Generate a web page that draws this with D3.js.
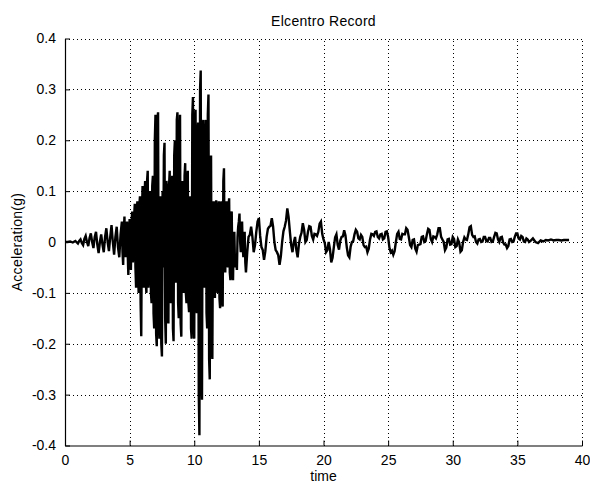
<!DOCTYPE html>
<html>
<head>
<meta charset="utf-8">
<script src="https://cdn.jsdelivr.net/npm/d3@7"></script>
<style>
  html, body { margin: 0; padding: 0; background: #fff; }
  svg { display: block; }
  text { font-family: "Liberation Sans", Arial, Helvetica, sans-serif; fill: #000; }
</style>
</head>
<body>
<svg id="chart" width="590" height="483"></svg>
<script>
// ---- data ----
const title = "Elcentro Record";
const xLabel = "time";
const yLabel = "Acceleration(g)";
const xTicks = [0, 5, 10, 15, 20, 25, 30, 35, 40];
const yTicks = [-0.4, -0.3, -0.2, -0.1, 0, 0.1, 0.2, 0.3, 0.4];

// [time (s), acceleration (g)] read from the record
const preEvent = [
  [0,0],[0.2,0],[0.4,0.001],[0.6,-0.001],[0.8,0.002],[1.0,-0.003],
  [1.1,0.002],[1.2,0.005],[1.3,-0.002],[1.4,-0.006],[1.5,0.006],[1.6,0.012],[1.7,0.0],[1.8,-0.008],
  [1.9,0.008],[2.0,0.017],[2.1,0.0],[2.2,-0.012],[2.3,0.01],[2.4,0.02],[2.5,-0.005],[2.6,-0.022],
  [2.7,0.0],[2.8,0.015],[2.9,-0.005],[3.0,-0.02],[3.1,0.01],[3.2,0.027],[3.3,0.0],[3.4,-0.018],
  [3.5,0.01],[3.6,0.033],[3.7,0.0],[3.8,-0.025],[3.9,0.01],[4.0,0.03],[4.1,-0.01],[4.2,-0.03],
  [4.3,0.015]
];
const strongMotion = [
  [4.4,0.04],[4.45,-0.02],[4.5,-0.045],[4.55,0.02],[4.6,0.05],[4.65,-0.01],[4.7,-0.03],[4.75,0.03],
  [4.8,0.04],[4.85,-0.02],[4.9,-0.065],[4.95,0.01],[5.0,0.045],[5.05,-0.03],[5.1,-0.055],[5.15,0.04],
  [5.2,0.06],[5.25,-0.04],[5.3,-0.02],[5.35,0.05],[5.4,0.075],[5.45,-0.05],[5.5,-0.09],[5.55,0.06],
  [5.6,0.08],[5.65,-0.06],[5.7,-0.1],[5.75,0.07],[5.8,0.09],[5.85,-0.12],[5.9,-0.185],[5.95,0.05],
  [6.0,0.11],[6.05,-0.05],[6.1,-0.09],[6.15,0.09],[6.2,0.12],[6.25,-0.08],[6.3,-0.1],[6.35,0.12],
  [6.4,0.14],[6.45,-0.09],[6.5,-0.06],[6.55,0.08],[6.6,0.1],[6.65,-0.1],[6.7,-0.12],[6.75,0.11],
  [6.8,0.13],[6.85,-0.14],[6.9,-0.17],[6.95,0.2],[7.0,0.25],[7.05,-0.18],[7.1,-0.205],[7.15,0.24],
  [7.2,0.255],[7.25,-0.15],[7.3,-0.19],[7.35,0.05],[7.4,0.09],[7.45,-0.2],[7.5,-0.225],[7.55,0.1],
  [7.6,-0.05],[7.65,0.17],[7.7,0.195],[7.75,-0.15],[7.8,-0.2],[7.85,0.12],[7.9,0.1],[7.95,-0.14],
  [8.0,-0.16],[8.05,0.11],[8.1,0.14],[8.15,-0.1],[8.2,-0.12],[8.25,0.12],[8.3,0.13],[8.35,-0.17],
  [8.4,-0.195],[8.45,0.17],[8.5,0.2],[8.55,-0.06],[8.6,-0.08],[8.65,0.24],[8.7,0.255],[8.75,-0.12],
  [8.8,-0.15],[8.85,0.2],[8.9,0.25],[8.95,-0.16],[9.0,-0.186],[9.05,0.1],[9.1,0.12],[9.15,-0.08],
  [9.2,-0.1],[9.25,0.13],[9.3,0.155],[9.35,-0.1],[9.4,-0.12],[9.45,0.12],[9.5,0.14],[9.55,-0.12],
  [9.6,-0.138],[9.65,0.07],[9.7,0.09],[9.75,-0.17],[9.8,-0.19],[9.85,0.25],[9.9,0.285],[9.95,-0.15],
  [10.0,-0.19],[10.05,0.23],[10.1,0.26],[10.15,-0.12],[10.2,-0.14],[10.25,0.21],[10.3,0.235],[10.35,-0.3],
  [10.4,-0.38],[10.45,0.3],[10.5,0.337],[10.55,-0.25],[10.6,-0.31],[10.65,0.2],[10.7,0.24],[10.75,-0.07],
  [10.8,-0.09],[10.85,0.2],[10.9,0.24],[10.95,-0.14],[11.0,-0.17],[11.05,0.25],[11.1,0.29],[11.15,-0.23],
  [11.2,-0.27],[11.25,0.14],[11.3,0.17],[11.35,-0.2],[11.4,-0.23],[11.45,0.06],[11.5,0.08],[11.55,-0.09],
  [11.6,-0.11],[11.65,0.07],[11.7,0.082],[11.75,-0.08],[11.8,-0.1],[11.85,0.06],[11.9,0.08],[11.95,-0.11],
  [12.0,-0.13],[12.05,0.07],[12.1,0.08],[12.15,-0.11],[12.2,-0.127],[12.25,0.12],[12.3,0.145],[12.35,-0.04],
  [12.4,-0.06],[12.45,0.07],[12.5,0.08],[12.55,-0.04],[12.6,-0.05],[12.65,0.07],[12.7,0.086],[12.75,-0.06],
  [12.8,-0.075],[12.85,0.05],[12.9,0.06],[12.95,-0.06],[13.0,-0.075],[13.05,0.01],[13.1,0.02],[13.15,-0.04],
  [13.2,-0.05],[13.25,-0.03],[13.3,-0.055],[13.35,0.01],[13.4,0.03],[13.45,0.04],[13.5,0.056],[13.55,0.0],
  [13.6,-0.02],[13.65,0.02],[13.7,0.04],[13.75,-0.01],[13.8,-0.03],[13.85,0.01],[13.9,0.02],[13.95,-0.04]
];
const coda = [
  [14.0,-0.06],[14.1,-0.02],[14.2,0.01],[14.3,0.014],[14.4,0.03],[14.5,0.01],[14.6,-0.02],[14.7,-0.006],
  [14.8,0.02],[14.9,0.04],[15.0,0.047],[15.1,0.012],[15.2,-0.01],[15.3,-0.016],[15.4,-0.035],[15.5,-0.018],
  [15.6,0.01],[15.7,0.026],[15.8,0.03],[15.9,0.032],[16.0,0.047],[16.1,0.03],[16.2,0.0],[16.3,-0.016],
  [16.4,-0.02],[16.5,-0.026],[16.6,-0.045],[16.7,-0.028],[16.8,0.0],[16.9,0.021],[17.0,0.03],[17.1,0.042],
  [17.2,0.066],[17.3,0.049],[17.4,0.02],[17.5,-0.006],[17.6,-0.02],[17.7,-0.001],[17.8,0.01],[17.9,-0.016],
  [18.0,-0.03],[18.1,-0.004],[18.2,0.01],[18.3,0.018],[18.4,0.037],[18.5,0.024],[18.6,0.0],[18.7,0.004],
  [18.8,0.02],[18.9,0.031],[19.0,0.03],[19.1,0.012],[19.2,0.005],[19.3,0.016],[19.4,0.015],[19.5,0.012],
  [19.6,0.02],[19.7,0.036],[19.8,0.04],[19.9,0.016],[20.0,0.005],[20.1,-0.002],[20.2,-0.02],[20.3,-0.016],
  [20.4,0.0],[20.5,-0.014],[20.6,-0.04],[20.7,-0.031],[20.8,-0.01],[20.9,0.009],[21.0,0.015],[21.1,-0.006],
  [21.2,-0.015],[21.3,0.003],[21.4,0.01],[21.5,0.011],[21.6,0.023],[21.7,0.013],[21.8,-0.01],[21.9,-0.026],
  [22.0,-0.03],[22.1,-0.009],[22.2,0.0],[22.3,0.002],[22.4,0.015],[22.5,0.024],[22.6,0.02],[22.7,0.007],
  [22.8,0.005],[22.9,0.014],[23.0,0.01],[23.1,-0.006],[23.2,-0.01],[23.3,-0.009],[23.4,-0.02],[23.5,-0.013],
  [23.6,0.005],[23.7,0.016],[23.8,0.015],[23.9,0.012],[24.0,0.02],[24.1,0.021],[24.2,0.01],[24.3,0.007],
  [24.4,0.015],[24.5,0.016],[24.6,0.005],[24.7,0.007],[24.8,0.02],[24.9,0.021],[25.0,0.01],[25.1,-0.011],
  [25.2,-0.02],[25.3,-0.017],[25.4,-0.025],[25.5,-0.018],[25.6,0.0],[25.7,0.016],[25.8,0.02],[25.9,0.006],
  [26.0,0.005],[26.1,0.016],[26.2,0.015],[26.3,0.015],[26.4,0.027],[26.5,0.024],[26.6,0.01],[26.7,-0.006],
  [26.8,-0.01],[26.9,0.004],[27.0,0.005],[27.1,-0.013],[27.2,-0.019],[27.3,-0.006],[27.4,-0.005],[27.5,-0.004],
  [27.6,0.01],[27.7,0.011],[27.8,0.0],[27.9,0.002],[28.0,0.015],[28.1,0.026],[28.2,0.024],[28.3,0.006],
  [28.4,0.0],[28.5,0.011],[28.6,0.01],[28.7,0.007],[28.8,0.015],[28.9,0.027],[29.0,0.027],[29.1,0.01],
  [29.2,0.005],[29.3,0.0],[29.4,-0.016],[29.5,-0.011],[29.6,0.005],[29.7,0.006],[29.8,-0.005],[29.9,-0.004],
  [30.0,0.01],[30.1,0.006],[30.2,-0.01],[30.3,-0.008],[30.4,0.005],[30.5,-0.001],[30.6,-0.019],[30.7,-0.016],
  [30.8,0.0],[30.9,0.009],[31.0,0.005],[31.1,0.004],[31.2,0.015],[31.3,0.029],[31.4,0.031],[31.5,0.014],
  [31.6,0.01],[31.7,0.011],[31.8,0.0],[31.9,-0.003],[32.0,0.005],[32.1,0.006],[32.2,0.0],[32.3,0.001],
  [32.4,0.01],[32.5,0.01],[32.6,0.002],[32.7,0.001],[32.8,0.008],[32.9,0.008],[33.0,0.0],[33.1,0.001],
  [33.2,0.01],[33.3,0.018],[33.4,0.017],[33.5,0.005],[33.6,0.0],[33.7,0.009],[33.8,0.01],[33.9,-0.001],
  [34.0,-0.005],[34.1,-0.005],[34.2,-0.012],[34.3,-0.008],[34.4,0.005],[34.5,0.006],[34.6,0.0],[34.7,0.001],
  [34.8,0.01],[34.9,0.017],[35.0,0.017],[35.1,0.007],[35.2,0.005],[35.3,0.012],[35.4,0.01],[35.5,0.001],
  [35.6,0.0],[35.7,0.007],[35.8,0.005],[35.9,0.0],[36.0,0.002],[36.2,0.007],[36.4,0.0],[36.6,-0.002],
  [36.8,0.003],[37.0,0.001],[37.2,0.004],[37.4,0.003],[37.6,0.005],[37.8,0.003],[38.0,0.004],[38.2,0.004],
  [38.4,0.003],[38.6,0.004],[38.8,0.004],[39.0,0.004]
];

// ---- drawing ----
const svg = d3.select("#chart");
const mLeft = 65, mRight = 582, mTop = 38.5, mBottom = 445.5;

const x = d3.scaleLinear().domain([0, 40]).range([mLeft, mRight]);
const y = d3.scaleLinear().domain([-0.4, 0.4]).range([mBottom, mTop]);

// grid (dotted)
const grid = svg.append("g").attr("stroke", "#000").attr("stroke-width", 1)
  .attr("stroke-dasharray", "1,3").attr("shape-rendering", "crispEdges");
grid.selectAll("line.v").data(xTicks.filter(d => d > 0)).join("line")
  .attr("class", "v")
  .attr("x1", d => Math.round(x(d)) + 0.5).attr("x2", d => Math.round(x(d)) + 0.5)
  .attr("y1", mBottom).attr("y2", mTop);
grid.selectAll("line.h").data(yTicks.filter(d => d > -0.4)).join("line")
  .attr("class", "h")
  .attr("x1", mLeft).attr("x2", mRight)
  .attr("y1", d => Math.round(y(d)) + 0.5).attr("y2", d => Math.round(y(d)) + 0.5);

// data line
const pts = preEvent.concat(strongMotion, coda);
svg.append("path")
  .datum(pts)
  .attr("fill", "none")
  .attr("stroke", "#000")
  .attr("stroke-width", 2.4)
  .attr("stroke-linejoin", "miter")
  .attr("d", d3.line().x(d => x(d[0])).y(d => y(d[1])));

// axes
const xAxis = d3.axisBottom(x).tickValues(xTicks).tickFormat(d3.format("d"))
  .tickSizeInner(-5).tickSizeOuter(0).tickPadding(10);
const gx = svg.append("g").attr("transform", `translate(0,${mBottom})`).call(xAxis);
const yAxis = d3.axisLeft(y).tickValues(yTicks)
  .tickFormat(d => d === 0 ? "0" : d3.format(".1f")(d).replace("\u2212", "-"))
  .tickSizeInner(-5).tickSizeOuter(0).tickPadding(9);
const gy = svg.append("g").attr("transform", `translate(${mLeft},0)`).call(yAxis);
[gx, gy].forEach(g => {
  g.selectAll("path.domain").attr("stroke", "#000").attr("stroke-width", 1.2);
  g.selectAll(".tick line").attr("stroke", "#000");
  g.selectAll("text").attr("font-size", 14).attr("font-family", "Liberation Sans, Arial, sans-serif").attr("fill", "#000");
});

// title and labels
svg.append("text").attr("x", (mLeft + mRight) / 2).attr("y", 26)
  .attr("text-anchor", "middle").attr("font-size", 14).attr("letter-spacing", 0.3).text(title);
svg.append("text").attr("x", (mLeft + mRight) / 2).attr("y", 481)
  .attr("text-anchor", "middle").attr("font-size", 14).text(xLabel);
svg.append("text").attr("transform", `translate(22,${(mTop + mBottom) / 2}) rotate(-90)`)
  .attr("text-anchor", "middle").attr("font-size", 14).attr("letter-spacing", 0.3).text(yLabel);
</script>
</body>
</html>
